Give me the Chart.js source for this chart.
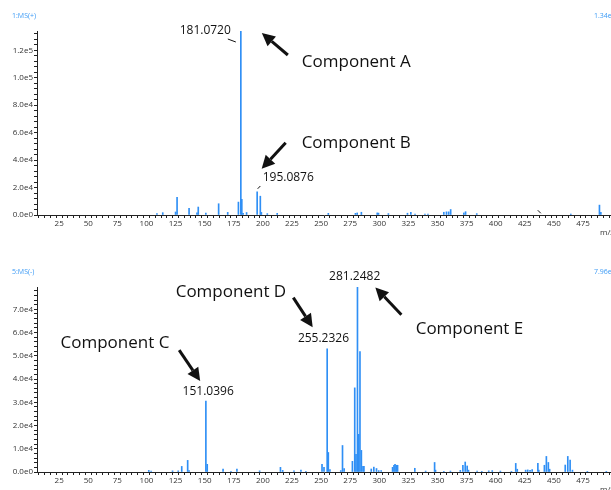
<!DOCTYPE html>
<html>
<head>
<meta charset="utf-8">
<script src="https://cdn.jsdelivr.net/npm/chart.js@4.4.0/dist/chart.umd.min.js"></script>
<style>
  html, body { margin: 0; padding: 0; background: #fff; }
  .panel { position: relative; width: 611px; height: 245px; }
</style>
</head>
<body>
<div class="panel"><canvas id="posChart" width="611" height="245"></canvas></div>
<div class="panel"><canvas id="negChart" width="611" height="245"></canvas></div>
<script>
// ----------------------
// Data: 1:MS(+) spectrum
// ----------------------
const posMz = [109, 114, 125, 126.3, 136.6, 143.4, 144.5, 151, 162, 169.8, 179, 181.07, 181.9, 183, 186,
  195.09, 197.8, 198.7, 203.8, 212.3, 256.2, 279.5, 281, 284.6, 298.2, 299.3, 307.8, 324.2, 327.1,
  330.7, 339.2, 341.8, 355.4, 357.7, 359.6, 361.3, 372.6, 374.1, 383.7, 464.5, 489.1, 490.3];
const posIntensity = [1000, 1700, 2200, 12800, 4800, 1500, 5800, 1400, 8200, 1900, 9400, 134000, 11400, 1200, 1800,
  16900, 13700, 1900, 1000, 1200, 1200, 1200, 1500, 2000, 1500, 1400, 1000, 1300, 2000,
  700, 700, 700, 2000, 2300, 2300, 4000, 1500, 2400, 1000, 700, 7200, 2000];

// ----------------------
// Data: 5:MS(-) spectrum
// ----------------------
const negMz = [102, 104, 122.4, 127.3, 130.3, 135.4, 136.6, 151.04, 152.2, 165.8, 172.6, 177.7, 197.2,
  215.1, 217, 226.7, 232.7, 236.9, 250.8, 252.5, 255.23, 256.2, 257.6, 266.9, 268.4, 269.8,
  276.9, 278.9, 280, 281.25, 282.3, 283.4, 284.6, 286, 286.8, 293.1, 295.3, 297.6, 299.5, 301.6,
  311.4, 312.6, 313.5, 314.6, 315.7, 330.5, 339.8, 347.5, 348.3, 355.4, 361.1, 369.6, 371.8,
  373.8, 375.5, 376.6, 384, 388, 394, 397, 404, 413.5, 417.2, 418.5, 425.7, 427.5, 429.5, 431.3,
  436.2, 437, 441.8, 443.5, 445.2, 446.3, 459.7, 461.9, 463.9, 465.9, 478.7, 495];
const negIntensity = [700, 400, 500, 500, 2400, 5000, 600, 30500, 3300, 1300, 300, 1300, 500,
  2000, 700, 500, 800, 300, 3300, 2000, 53000, 8400, 1000, 600, 11400, 1500,
  4600, 36200, 7600, 79600, 16200, 51800, 9300, 2400, 2400, 1300, 2100, 1500, 600, 600,
  2000, 2900, 3300, 2900, 2900, 1600, 400, 4100, 800, 300, 400, 700, 2900,
  4300, 2600, 800, 400, 300, 500, 600, 400, 300, 3700, 1200, 800, 900, 700, 1000,
  3700, 800, 2900, 6700, 4100, 1200, 3000, 6700, 5100, 800, 300, 300];

// ----------------------
// Tick labels
// ----------------------
const xTickLabels = [25, 50, 75, 100, 125, 150, 175, 200, 225, 250, 275, 300, 325, 350, 375, 400, 425, 450, 475];
const posYTicks = [0, 20000, 40000, 60000, 80000, 100000, 120000];
const posYTickLabels = ["0.0e0", "2.0e4", "4.0e4", "6.0e4", "8.0e4", "1.0e5", "1.2e5"];
const negYTicks = [0, 10000, 20000, 30000, 40000, 50000, 60000, 70000];
const negYTickLabels = ["0.0e0", "1.0e4", "2.0e4", "3.0e4", "4.0e4", "5.0e4", "6.0e4", "7.0e4"];

const FONT = '"Open Sans", "DejaVu Sans", sans-serif';
const BAR_COLOR = "#2f8ff5";
const HEAD_COLOR = "#3d9bf5";
const X_MIN = 8.5, X_MAX = 496.5;

// minor ticks every `step` from `from` up to `to`
function stepTicks(from, to, step) {
    const out = [];
    for (let v = Math.ceil(from / step) * step; v <= to + 1e-9; v += step) out.push({ value: v });
    return out;
}

// ----------------------
// Plugin: header + peak annotations + arrows
// ----------------------
function drawArrow(ctx, x1, y1, x2, y2) {
    const ang = Math.atan2(y2 - y1, x2 - x1);
    const headLen = 13, headHalf = 6.5;
    const bx = x2 - headLen * Math.cos(ang), by = y2 - headLen * Math.sin(ang);
    ctx.lineWidth = 3;
    ctx.beginPath();
    ctx.moveTo(x1, y1);
    ctx.lineTo(bx, by);
    ctx.stroke();
    ctx.beginPath();
    ctx.moveTo(x2, y2);
    ctx.lineTo(bx + headHalf * Math.sin(ang), by - headHalf * Math.cos(ang));
    ctx.lineTo(bx - headHalf * Math.sin(ang), by + headHalf * Math.cos(ang));
    ctx.closePath();
    ctx.fill();
}

const spectrumNotes = {
    id: "spectrumNotes",
    afterDraw(chart, args, opts) {
        const { ctx, scales: { x, y } } = chart;
        ctx.save();

        // panel header
        ctx.font = "7px " + FONT;
        ctx.fillStyle = HEAD_COLOR;
        ctx.textBaseline = "middle";
        ctx.textAlign = "left";
        ctx.fillText(opts.title, 12, opts.headY);
        ctx.fillText(opts.maxText, 594, opts.headY);

        // axis title (mostly cut by the edge)
        ctx.font = "8px " + FONT;
        ctx.fillStyle = "#333";
        ctx.fillText("m/z", 600, chart.chartArea.bottom + 18);

        ctx.strokeStyle = "#111";
        ctx.fillStyle = "#111";
        for (const n of opts.notes) {
            const px = x.getPixelForValue(n.mz);
            const py = y.getPixelForValue(n.intensity);
            if (n.label) {
                ctx.font = "12px " + FONT;
                ctx.textAlign = n.label[3];
                ctx.fillText(n.label[0], px + n.label[1], py + n.label[2]);
            }
            if (n.leader) {
                ctx.lineWidth = 1;
                ctx.beginPath();
                ctx.moveTo(px + n.leader[0], py + n.leader[1]);
                ctx.lineTo(px + n.leader[2], py + n.leader[3]);
                ctx.stroke();
            }
            if (n.arrow) {
                drawArrow(ctx, px + n.arrow[0], py + n.arrow[1], px + n.arrow[2], py + n.arrow[3]);
            }
            if (n.name) {
                ctx.font = "17px " + FONT;
                ctx.textAlign = "left";
                ctx.fillText(n.name[0], px + n.name[1], py + n.name[2]);
            }
        }
        ctx.restore();
    }
};

function renderSpectrum(canvasId, mz, intensity, yMax, yStep, yTicks, yLabels, padTop, xHeight, plugOpts) {
    const ctx = document.getElementById(canvasId).getContext("2d");
    const tickFont = { family: FONT, size: 8 };

    return new Chart(ctx, {
        type: "bar",
        data: {
            datasets: [{
                label: plugOpts.title,
                data: mz.map((m, i) => ({ x: m, y: intensity[i] })),
                backgroundColor: BAR_COLOR,
                barThickness: 1,
                grouped: false
            }]
        },
        options: {
            responsive: false,
            animation: false,
            devicePixelRatio: 1,
            layout: { padding: { top: padTop, right: 0, left: 0, bottom: 0 } },
            plugins: {
                legend: { display: false },
                tooltip: { enabled: false },
                spectrumNotes: plugOpts
            },
            scales: {
                x: {
                    type: "linear",
                    min: X_MIN,
                    max: X_MAX,
                    afterBuildTicks: s => { s.ticks = stepTicks(X_MIN, X_MAX, 5); },
                    afterFit: s => { s.height = xHeight; },
                    border: { color: "#222", width: 1 },
                    grid: { drawOnChartArea: false, tickLength: 3, color: "#222" },
                    ticks: {
                        autoSkip: false,
                        maxRotation: 0,
                        padding: 1,
                        font: tickFont,
                        color: "#333",
                        callback: v => xTickLabels.includes(v) ? String(v) : ""
                    }
                },
                y: {
                    min: 0,
                    max: yMax,
                    afterBuildTicks: s => { s.ticks = stepTicks(0, yMax, yStep); },
                    afterFit: s => { s.width = 37; },
                    border: { color: "#222", width: 1 },
                    grid: { drawOnChartArea: false, tickLength: 3, color: "#222" },
                    ticks: {
                        autoSkip: false,
                        padding: 1,
                        font: tickFont,
                        color: "#333",
                        callback: v => {
                            const i = yTicks.indexOf(v);
                            return i >= 0 ? yLabels[i] : "";
                        }
                    }
                }
            }
        },
        plugins: [spectrumNotes]
    });
}

renderSpectrum("posChart", posMz, posIntensity, 134000, 4000, posYTicks, posYTickLabels, 31, 30, {
    title: "1:MS(+)",
    maxText: "1.34e5",
    headY: 16,
    notes: [
        { mz: 181.07, intensity: 134000, label: ["181.0720", -10, 0, "right"], leader: [-13, 8, -5, 11],
          arrow: [47, 24, 21, 2], name: ["Component A", 61, 31] },
        { mz: 195.09, intensity: 16900, label: ["195.0876", 5.5, -14, "left"], leader: [0.5, -3, 3.2, -5.8],
          arrow: [28.5, -49, 4.5, -23], name: ["Component B", 44.5, -49] },
        { mz: 437, intensity: 2000, leader: [-1, -2, 2, 1] }
    ]
});

renderSpectrum("negChart", negMz, negIntensity, 79600, 2000, negYTicks, negYTickLabels, 42, 18, {
    title: "5:MS(-)",
    maxText: "7.96e4",
    headY: 27,
    notes: [
        { mz: 151.04, intensity: 30500, label: ["151.0396", 2.3, -9.3, "center"],
          arrow: [-26.7, -51, -5.7, -20], name: ["Component C", -145.4, -57.7] },
        { mz: 255.23, intensity: 53000, label: ["255.2326", -3.7, -10.6, "center"],
          arrow: [-33.9, -51.2, -14.5, -21.6], name: ["Component D", -151.5, -56.2] },
        { mz: 281.25, intensity: 79600, label: ["281.2482", -2.8, -10.6, "center"],
          arrow: [43.9, 27.7, 17.9, 0.4], name: ["Component E", 58.2, 41.7] }
    ]
});
</script>
</body>
</html>
